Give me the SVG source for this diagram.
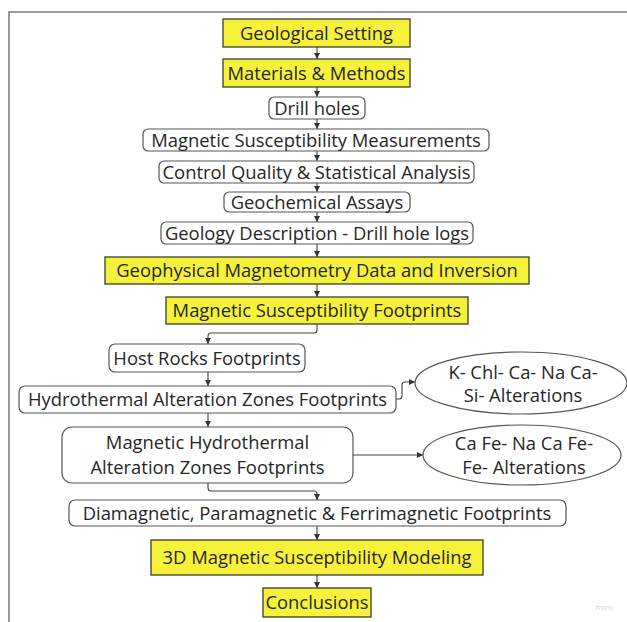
<svg xmlns="http://www.w3.org/2000/svg" width="627" height="622" viewBox="0 0 627 622">
<style>
  .y { fill: #f6f23a; stroke: #4a4a3a; stroke-width: 1.4; }
  .w { fill: #ffffff; stroke: #555555; stroke-width: 1.2; }
  .t { font-family: "Open Sans", "Noto Sans", sans-serif; font-size: 18.4px; fill: #262626; text-anchor: middle; dominant-baseline: central; }
  .c { fill: none; stroke: #444444; stroke-width: 1.1; marker-end: url(#ah); }
</style>
<defs>
  <marker id="ah" viewBox="0 0 8 8" refX="8" refY="4" markerWidth="6" markerHeight="6" markerUnits="userSpaceOnUse" orient="auto">
    <path d="M0,0 L8,4 L0,8 Z" fill="#333333"/>
  </marker>
</defs>
<rect x="0" y="0" width="627" height="622" fill="#ffffff"/>
<rect x="9" y="12" width="700" height="700" fill="none" stroke="#7a7a7a" stroke-width="1.5"/>

<g id="connectors">
  <path class="c" d="M317,47 V59"/>
  <path class="c" d="M317,87 V97"/>
  <path class="c" d="M317,119 V129"/>
  <path class="c" d="M317,151 V161"/>
  <path class="c" d="M317,183 V192"/>
  <path class="c" d="M317,212 V222"/>
  <path class="c" d="M317,244 V257"/>
  <path class="c" d="M317,284 V297"/>
  <path class="c" d="M317,324 V330 Q317,333 314,333 H211 Q208,333 208,336 V344"/>
  <path class="c" d="M208,372 V386"/>
  <path class="c" d="M396,399 H399 Q402,399 402,396 V385 Q402,382 405,382 H415"/>
  <path class="c" d="M208,413 V427"/>
  <path class="c" d="M353,455 H423"/>
  <path class="c" d="M208,483 V488 Q208,491 211,491 H314 Q317,491 317,494 V500"/>
  <path class="c" d="M317,526 V540"/>
  <path class="c" d="M317,575 V588"/>
</g>

<g id="geological-setting"><rect class="y" x="223" y="19" width="187" height="28"/><text class="t" x="316.5" y="32">Geological Setting</text></g>
<g id="materials-methods"><rect class="y" x="223" y="59" width="187" height="28"/><text class="t" x="316.5" y="72">Materials &amp; Methods</text></g>
<g id="drill-holes"><rect class="w" x="269" y="97" width="96" height="22" rx="5"/><text class="t" x="317" y="107">Drill holes</text></g>
<g id="mag-sus-measurements"><rect class="w" x="143" y="129" width="346" height="22" rx="5"/><text class="t" x="316" y="139">Magnetic Susceptibility Measurements</text></g>
<g id="control-quality"><rect class="w" x="159" y="161" width="315" height="22" rx="5"/><text class="t" x="316.5" y="171">Control Quality &amp; Statistical Analysis</text></g>
<g id="geochemical-assays"><rect class="w" x="224" y="192" width="186" height="20" rx="5"/><text class="t" x="317" y="201">Geochemical Assays</text></g>
<g id="geology-description"><rect class="w" x="161" y="222" width="312" height="22" rx="5"/><text class="t" x="317" y="232">Geology Description - Drill hole logs</text></g>
<g id="geophysical-magnetometry"><rect class="y" x="105" y="257" width="424" height="27"/><text class="t" x="317" y="269.5">Geophysical Magnetometry Data and Inversion</text></g>
<g id="mag-sus-footprints"><rect class="y" x="166" y="297" width="302" height="27"/><text class="t" x="317" y="309.5">Magnetic Susceptibility Footprints</text></g>
<g id="host-rocks"><rect class="w" x="109" y="344" width="196" height="28" rx="6"/><text class="t" x="207" y="357">Host Rocks Footprints</text></g>
<g id="hydrothermal-alteration"><rect class="w" x="19" y="386" width="377" height="27" rx="6"/><text class="t" x="207.5" y="398.5">Hydrothermal Alteration Zones Footprints</text></g>
<g id="magnetic-hydrothermal"><rect class="w" x="62" y="427" width="291" height="56" rx="10"/><text class="t" x="207.5" y="441">Magnetic Hydrothermal</text><text class="t" x="207.5" y="466">Alteration Zones Footprints</text></g>
<g id="k-chl-alterations"><ellipse class="w" cx="521" cy="383" rx="106" ry="31"/><text class="t" x="523" y="371">K- Chl- Ca- Na Ca-</text><text class="t" x="523" y="394">Si- Alterations</text></g>
<g id="ca-fe-alterations"><ellipse class="w" cx="522" cy="455" rx="99" ry="30"/><text class="t" x="524" y="442">Ca Fe- Na Ca Fe-</text><text class="t" x="524" y="466">Fe- Alterations</text></g>
<g id="dia-para-ferri"><rect class="w" x="69" y="500" width="497" height="26" rx="6"/><text class="t" x="317" y="512">Diamagnetic, Paramagnetic &amp; Ferrimagnetic Footprints</text></g>
<g id="modeling-3d"><rect class="y" x="151" y="540" width="332" height="35"/><text class="t" x="317" y="556.5">3D Magnetic Susceptibility Modeling</text></g>
<g id="conclusions"><rect class="y" x="263" y="588" width="108" height="29"/><text class="t" x="317" y="601.5">Conclusions</text></g>
<text x="604" y="610" font-family="Open Sans, sans-serif" font-size="8" fill="#d0d0d0" text-anchor="middle">miro</text>
</svg>
